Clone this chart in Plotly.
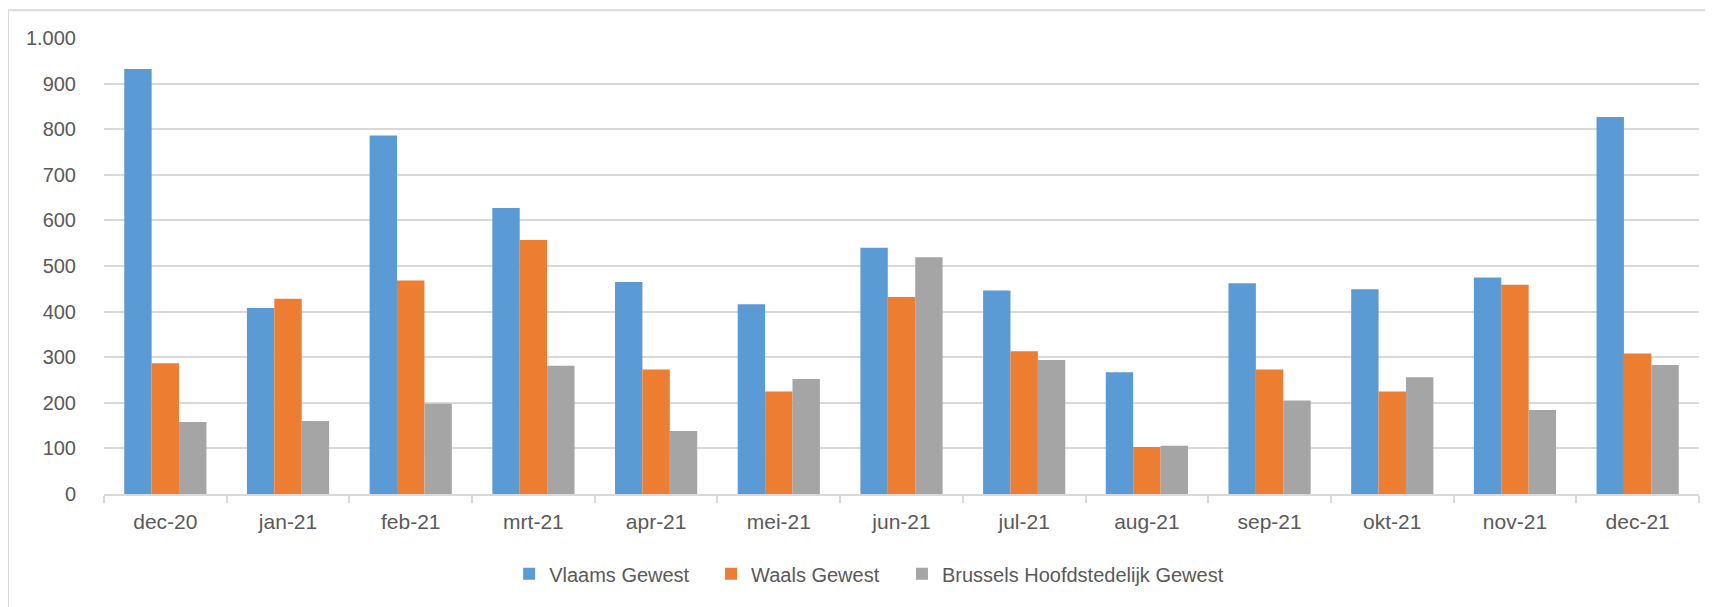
import plotly.graph_objects as go

months = ["dec-20", "jan-21", "feb-21", "mrt-21", "apr-21", "mei-21", "jun-21",
          "jul-21", "aug-21", "sep-21", "okt-21", "nov-21", "dec-21"]
vlaams = [932, 408, 786, 627, 465, 416, 540, 446, 267, 462, 449, 475, 827]
waals = [287, 428, 468, 557, 273, 225, 432, 313, 103, 273, 225, 459, 308]
brussel = [158, 160, 198, 281, 138, 252, 519, 294, 106, 205, 256, 184, 283]

series_names = ["Vlaams Gewest", "Waals Gewest", "Brussels Hoofdstedelijk Gewest"]
series_colors = ["#5B9BD5", "#ED7D31", "#A5A5A5"]
yticks = list(range(0, 1001, 100))

FONT = "Liberation Sans"
TXT = "#595959"
GRID = "#D9D9D9"

legend_ids = ["legend", "legend2", "legend3"]
legend_x = [0.254, 0.3806, 0.5003]

fig = go.Figure()
for name, vals, col, lid in zip(series_names, [vlaams, waals, brussel], series_colors, legend_ids):
    fig.add_trace(go.Bar(x=months, y=vals, name=name, legend=lid,
                         marker=dict(color=col, line=dict(width=0))))

legend_common = dict(orientation="h", xanchor="left", y=-0.175, yanchor="middle",
                     font=dict(family=FONT, size=20, color=TXT),
                     bgcolor="rgba(0,0,0,0)", itemsizing="constant")

fig.update_layout(
    width=1713, height=607,
    paper_bgcolor="white", plot_bgcolor="white",
    barmode="group", bargap=0.33, bargroupgap=0,
    separators=",.",
    margin=dict(l=96, r=22, t=30, b=121),
    font=dict(family=FONT, color=TXT, size=20),
    showlegend=True,
    legend=dict(x=legend_x[0], **legend_common),
    legend2=dict(x=legend_x[1], **legend_common),
    legend3=dict(x=legend_x[2], **legend_common),
    shapes=[dict(type="rect", xref="paper", yref="paper",
                 x0=-0.0602, x1=1.2, y0=-0.5, y1=1.061,
                 line=dict(color="#D9D9D9", width=2), fillcolor="rgba(0,0,0,0)",
                 layer="below")],
)
fig.update_xaxes(
    showgrid=False, showline=True, linecolor=GRID, linewidth=2,
    ticks="outside", tickson="boundaries", ticklen=7, tickcolor=GRID, tickwidth=2,
    tickfont=dict(family=FONT, size=21, color=TXT), ticklabelstandoff=8,
)
fig.update_yaxes(
    range=[0, 1000], tickvals=yticks, tickformat=",d",
    showgrid=True, gridcolor=GRID, gridwidth=2,
    showline=False, zeroline=False, ticks="",
    tickfont=dict(family=FONT, size=20, color=TXT), ticklabelstandoff=27,
)

fig.write_html("out.html")
